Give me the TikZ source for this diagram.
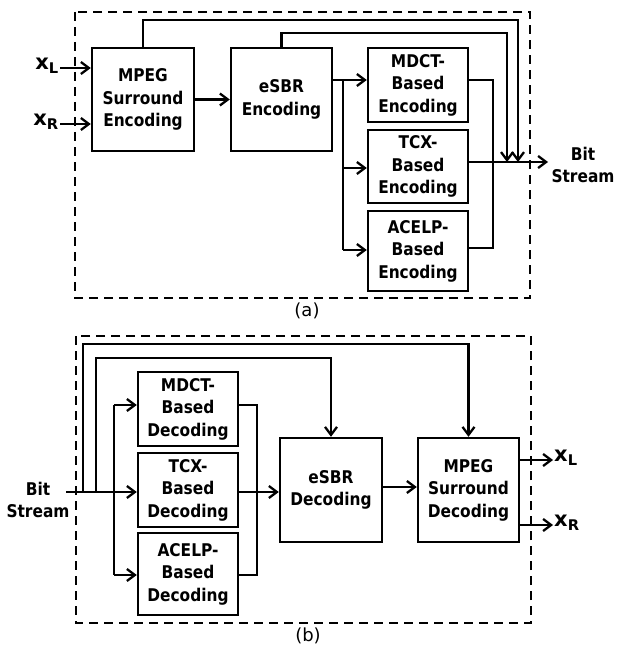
\documentclass[tikz,border=0pt]{standalone}
\usepackage{fontspec}
\setmainfont{DejaVu Sans}
\newfontfamily\blkfont{DejaVu Sans}[FakeStretch=0.88]
\usetikzlibrary{arrows.meta}
\tikzset{
  blk/.style={draw, line width=2.4pt, align=center, inner sep=1pt,
    font=\blkfont\bfseries\fontsize{17.5}{22.5}\selectfont},
  lbl/.style={align=center, inner sep=1pt, font=\blkfont\bfseries\fontsize{17.5}{22.5}\selectfont},
  xlbl/.style={inner sep=1pt, font=\bfseries\fontsize{21}{22}\selectfont},
  subcap/.style={font=\fontsize{18}{20}\selectfont},
  ln/.style={line width=2.3pt},
  arr/.style={line width=2.3pt, -{Straight Barb[length=8pt,width=12pt,line width=2.3pt]}},
  dbox/.style={line width=2.4pt, dash pattern=on 9pt off 6pt}
}
\begin{document}
\begin{tikzpicture}[x=1pt,y=-1pt]
\useasboundingbox (0,0) rectangle (616,650);
% ---------------- (a) encoder ----------------
\draw[dbox] (75,12) rectangle (530,298);
\node[blk, minimum width=102pt, minimum height=103pt] (mpeg) at (143,99.5) {MPEG\\Surround\\Encoding};
\node[blk, minimum width=101pt, minimum height=103pt] (esbr) at (281.5,99.5) {eSBR\\Encoding};
\node[blk, minimum width=100pt, minimum height=74pt] (mdct) at (418,85) {MDCT-\\Based\\Encoding};
\node[blk, minimum width=100pt, minimum height=73pt] (tcx) at (418,166.5) {TCX-\\Based\\Encoding};
\node[blk, minimum width=100pt, minimum height=80pt] (acelp) at (418,251) {ACELP-\\Based\\Encoding};
\node[xlbl, anchor=east] (xL) at (60,66) {x\textsubscript{L}};
\node[xlbl, anchor=east] (xR) at (60,122) {x\textsubscript{R}};
\node[lbl] (bs) at (583,165) {Bit\\Stream};
\coordinate (bsin) at (548,162);
\draw[arr] (xL.east |- 0,68) -- (mpeg.west |- 0,68);
\draw[arr] (xR.east |- 0,124) -- (mpeg.west |- 0,124);
\draw[arr] (mpeg) -- (esbr);
\coordinate (s1) at (343,80);
\coordinate (s2) at (343,168);
\coordinate (s3) at (343,250);
\draw[ln] (esbr.east |- s1) -- (s1) -- (s3);
\draw[arr] (s1) -- (s1 -| mdct.west);
\draw[arr] (s2) -- (s2 -| tcx.west);
\draw[arr] (s3) -- (s3 -| acelp.west);
\coordinate (m1) at (493,80);
\coordinate (m3) at (493,248);
\draw[ln] (mdct.east |- m1) -- (m1) -- (m3) -- (m3 -| acelp.east);
\draw[arr] (tcx.east |- bsin) -- (bsin);
\coordinate (t1) at (518,20);
\coordinate (t2) at (507,33);
\draw[arr] (mpeg.north) |- (t1) -- (t1 |- bsin);
\draw[arr] (esbr.north) |- (t2) -- (t2 |- bsin);
\node[subcap] (capa) at (307,311) {(a)};
% ---------------- (b) decoder ----------------
\draw[dbox] (76,336) rectangle (531,623);
\node[blk, minimum width=100pt, minimum height=74pt] (mdctd) at (188,409) {MDCT-\\Based\\Decoding};
\node[blk, minimum width=100pt, minimum height=74pt] (tcxd) at (188,490) {TCX-\\Based\\Decoding};
\node[blk, minimum width=100pt, minimum height=82pt] (acelpd) at (188,574) {ACELP-\\Based\\Decoding};
\node[blk, minimum width=102pt, minimum height=104pt] (esbrd) at (331,490) {eSBR\\Decoding};
\node[blk, minimum width=101pt, minimum height=104pt] (mpegd) at (468.5,490) {MPEG\\Surround\\Decoding};
\node[lbl] (bsd) at (38,500) {Bit\\Stream};
\node[xlbl, anchor=west] (oL) at (553,458) {x\textsubscript{L}};
\node[xlbl, anchor=west] (oR) at (553,523) {x\textsubscript{R}};
\coordinate (bin) at (66,492);
\draw[arr] (bin) -- (bin -| tcxd.west);
\coordinate (b1) at (83,492);
\coordinate (b2) at (96,492);
\coordinate (c1) at (468.5,344);
\coordinate (c2) at (331,358);
\draw[arr] (b1) |- (c1) -- (mpegd.north);
\draw[arr] (b2) |- (c2) -- (esbrd.north);
\coordinate (dtop) at (114,405);
\coordinate (dbot) at (114,575);
\draw[ln] (dtop) -- (dbot);
\draw[arr] (dtop) -- (dtop -| mdctd.west);
\draw[arr] (dbot) -- (dbot -| acelpd.west);
\coordinate (e1) at (257,405);
\coordinate (e2) at (257,575);
\draw[ln] (mdctd.east |- e1) -- (e1) -- (e2) -- (e2 -| acelpd.east);
\draw[arr] (tcxd.east |- bin) -- (bin -| esbrd.west);
\draw[arr] (esbrd.east |- 0,487) -- (mpegd.west |- 0,487);
\draw[arr] (mpegd.east |- 0,460) -- (oL.west |- 0,460);
\draw[arr] (mpegd.east |- 0,525) -- (oR.west |- 0,525);
\node[subcap] (capb) at (308,636) {(b)};
\end{tikzpicture}
\end{document}
